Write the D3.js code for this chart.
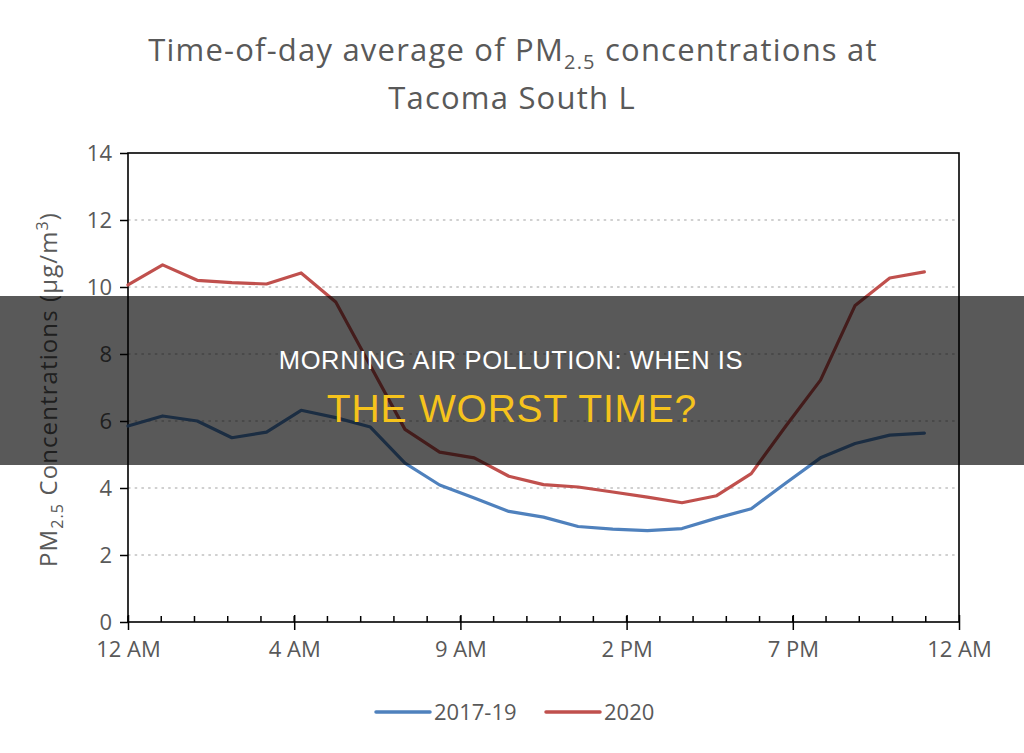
<!DOCTYPE html>
<html>
<head>
<meta charset="utf-8">
<script src="https://cdn.jsdelivr.net/npm/d3@7/dist/d3.min.js"></script>
<style>
  html, body { margin: 0; padding: 0; background: #fff; }
  svg { display: block; }
</style>
</head>
<body>
<svg id="chart" width="1024" height="753"></svg>
<script>
// hour of day for each averaged value
const HOURS = [0, 1, 2, 3, 4, 5, 6, 7, 8, 9, 10, 11, 12, 13, 14, 15, 16, 17, 18, 19, 20, 21, 22, 23];

// PM2.5 (ug/m3)
const AVG_2017_19 = [5.85, 6.15, 6.0, 5.5, 5.67, 6.32, 6.1, 5.82, 4.74, 4.09, 3.7, 3.3,
  3.13, 2.85, 2.77, 2.73, 2.79, 3.1, 3.38, 4.15, 4.9, 5.33, 5.58, 5.64];
const AVG_2020 = [10.06, 10.66, 10.2, 10.13, 10.09, 10.42, 9.55, 7.65, 5.75, 5.07, 4.9, 4.35,
  4.1, 4.03, 3.88, 3.73, 3.56, 3.77, 4.43, 5.85, 7.22, 9.45, 10.27, 10.45];

// Excel-style time axis: major every 0.2 day, minor every 0.04 day
const X_TICKS = [0, 4.8, 9.6, 14.4, 19.2, 24];
const X_TICK_LABELS = ["12 AM", "4 AM", "9 AM", "2 PM", "7 PM", "12 AM"];
const Y_TICKS = [0, 2, 4, 6, 8, 10, 12, 14];

const SERIES = [
  { name: "2017-19", values: AVG_2017_19, color: "#4f81bd" },
  { name: "2020", values: AVG_2020, color: "#c0504d" },
];

const TEXT = "#595959";
const FONT = "'Open Sans', 'Liberation Sans', sans-serif";

const svg = d3.select("#chart");
const plot = { left: 128, right: 959, top: 153, bottom: 622 };

const x = d3.scaleLinear().domain([0, 24]).range([plot.left, plot.right]);
const y = d3.scaleLinear().domain([0, 14]).range([plot.bottom, plot.top]);

// ---- title ----
const title = svg.append("text")
  .attr("x", 513).attr("y", 61)
  .attr("text-anchor", "middle")
  .attr("font-family", FONT).attr("font-size", 31)
  .attr("letter-spacing", 1.2)
  .attr("fill", TEXT);
title.append("tspan").text("Time-of-day average of PM");
title.append("tspan").attr("font-size", 20).attr("dy", 8).text("2.5");
title.append("tspan").attr("dy", -8).text(" concentrations at");

svg.append("text")
  .attr("x", 512).attr("y", 109)
  .attr("text-anchor", "middle")
  .attr("font-family", FONT).attr("font-size", 31)
  .attr("letter-spacing", 1.2)
  .attr("fill", TEXT)
  .text("Tacoma South L");

// ---- gridlines ----
svg.append("g")
  .selectAll("line")
  .data(Y_TICKS.filter((d) => d > 0 && d < 14))
  .join("line")
  .attr("x1", plot.left).attr("x2", plot.right)
  .attr("y1", (d) => y(d)).attr("y2", (d) => y(d))
  .attr("stroke", "#d0d0d0")
  .attr("stroke-width", 2.2)
  .attr("stroke-dasharray", "2.5,4.2");

// ---- y axis ----
const yAxis = svg.append("g")
  .attr("transform", `translate(${plot.left},0)`)
  .call(d3.axisLeft(y).tickValues(Y_TICKS).tickSize(8).tickPadding(8).tickFormat(d3.format("d")));
yAxis.select(".domain").remove();
yAxis.selectAll("line").attr("stroke", "#000").attr("stroke-width", 1.5);
yAxis.selectAll("text")
  .attr("font-family", FONT).attr("font-size", 22).attr("fill", TEXT);

// ---- x axis: minor ticks inside, major ticks crossing ----
const minor = d3.range(0, 25).map((i) => i * 0.96);
svg.append("g")
  .selectAll("line")
  .data(minor)
  .join("line")
  .attr("x1", (d) => x(d)).attr("x2", (d) => x(d))
  .attr("y1", plot.bottom).attr("y2", plot.bottom - 6)
  .attr("stroke", "#000").attr("stroke-width", 1.5);

const xAxis = svg.append("g")
  .attr("transform", `translate(0,${plot.bottom})`)
  .call(d3.axisBottom(x).tickValues(X_TICKS).tickSize(8).tickPadding(11)
    .tickFormat((d, i) => X_TICK_LABELS[i]));
xAxis.select(".domain").remove();
xAxis.selectAll("line").attr("stroke", "#000").attr("stroke-width", 1.5).attr("y1", -7);
xAxis.selectAll("text")
  .attr("font-family", FONT).attr("font-size", 22).attr("fill", TEXT);

// plot area frame
svg.append("rect")
  .attr("x", plot.left).attr("y", plot.top)
  .attr("width", plot.right - plot.left).attr("height", plot.bottom - plot.top)
  .attr("fill", "none").attr("stroke", "#000").attr("stroke-width", 1.6);

// ---- y label ----
const yl = svg.append("text")
  .attr("transform", `translate(57,${(plot.top + plot.bottom) / 2 + 2}) rotate(-90)`)
  .attr("text-anchor", "middle")
  .attr("font-family", FONT).attr("font-size", 24)
  .attr("letter-spacing", 1.1)
  .attr("fill", TEXT);
yl.append("tspan").text("PM");
yl.append("tspan").attr("font-size", 16).attr("dy", 6).text("2.5");
yl.append("tspan").attr("dy", -6).text(" Concentrations (µg/m");
yl.append("tspan").attr("font-size", 16).attr("dy", -9).text("3");
yl.append("tspan").attr("dy", 9).text(")");

// ---- lines ----
const line = d3.line().x((d) => x(d[0])).y((d) => y(d[1]));
svg.append("g")
  .selectAll("path")
  .data(SERIES)
  .join("path")
  .attr("fill", "none")
  .attr("stroke", (d) => d.color)
  .attr("stroke-width", 3.2)
  .attr("stroke-linejoin", "round")
  .attr("stroke-linecap", "round")
  .attr("d", (d) => line(HOURS.map((h, i) => [h, d.values[i]])));

// ---- legend ----
const legendItems = [
  { s: SERIES[0], x0: 376, tx: 434 },
  { s: SERIES[1], x0: 546, tx: 604 },
];
const lg = svg.append("g");
for (const it of legendItems) {
  lg.append("line")
    .attr("x1", it.x0).attr("x2", it.x0 + 54)
    .attr("y1", 712).attr("y2", 712)
    .attr("stroke", it.s.color).attr("stroke-width", 3.5)
    .attr("stroke-linecap", "round");
  lg.append("text")
    .attr("x", it.tx).attr("y", 720)
    .attr("font-family", FONT).attr("font-size", 22)
    .attr("fill", TEXT)
    .text(it.s.name);
}

// ---- banner overlay ----
svg.append("rect")
  .attr("x", 0).attr("y", 296)
  .attr("width", 1024).attr("height", 169)
  .attr("fill", "#000").attr("opacity", 0.65);

svg.append("text")
  .attr("x", 511).attr("y", 369)
  .attr("text-anchor", "middle")
  .attr("font-family", "'Liberation Sans', Arial, sans-serif")
  .attr("font-size", 25.5)
  .attr("letter-spacing", 0.6)
  .attr("fill", "#ffffff")
  .text("MORNING AIR POLLUTION: WHEN IS");

svg.append("text")
  .attr("x", 512).attr("y", 422)
  .attr("text-anchor", "middle")
  .attr("font-family", "'Liberation Sans', Arial, sans-serif")
  .attr("font-size", 39)
  .attr("letter-spacing", 0.8)
  .attr("fill", "#f6c31c")
  .text("THE WORST TIME?");
</script>
</body>
</html>
